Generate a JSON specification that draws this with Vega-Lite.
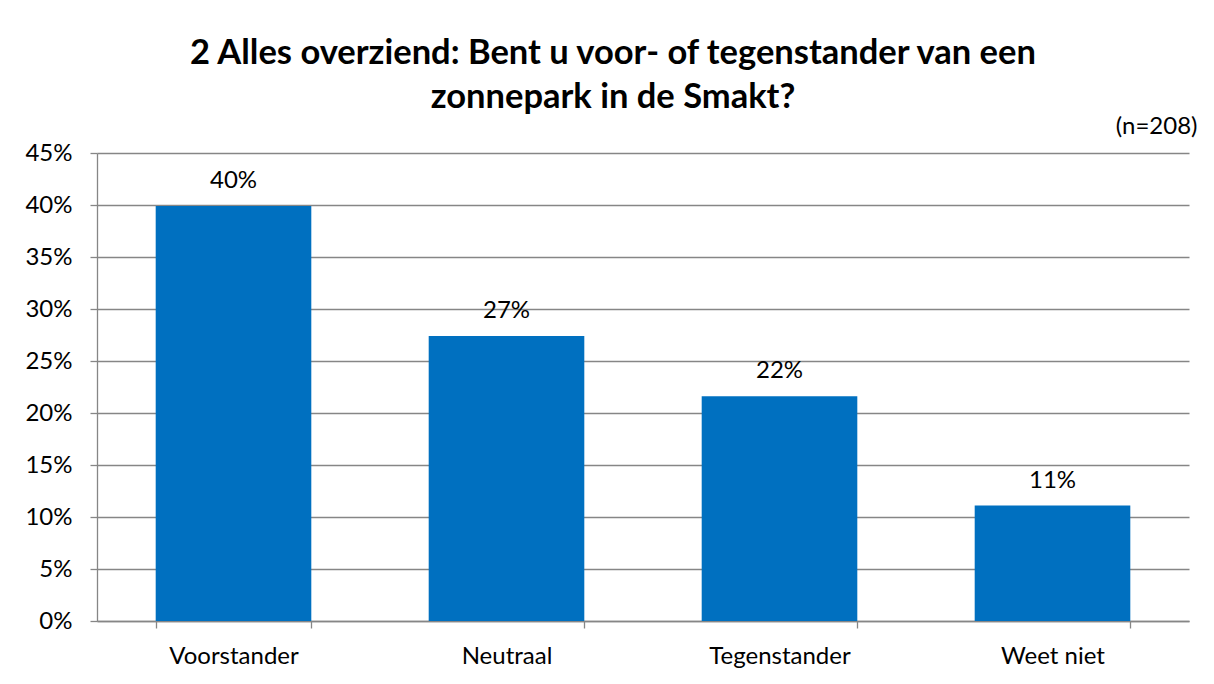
{
  "$schema": "https://vega.github.io/schema/vega-lite/v6.json",
  "width": 1092,
  "height": 468,
  "autosize": "none",
  "padding": {"left": 97, "top": 153, "right": 25, "bottom": 63},
  "background": "white",
  "title": {
    "text": ["2 Alles overziend: Bent u voor- of tegenstander van een", "zonnepark in de Smakt?"],
    "anchor": "middle",
    "frame": "group",
    "dx": -30,
    "font": "Lato",
    "fontSize": 34.5,
    "fontWeight": "bold",
    "color": "#000000",
    "lineHeight": 44,
    "offset": 0
  },
  "config": {
    "view": {"stroke": null},
    "font": "Lato",
    "axis": {
      "labelFont": "Lato",
      "labelFontSize": 24,
      "labelColor": "#000000",
      "domainColor": "#868686",
      "tickColor": "#868686",
      "gridColor": "#868686",
      "domainWidth": 1.3,
      "tickWidth": 1.3,
      "gridWidth": 1.3,
      "tickSize": 7
    }
  },
  "datasets": {
    "antwoorden": [
      {"categorie": "Voorstander", "aandeel": 0.399},
      {"categorie": "Neutraal", "aandeel": 0.274},
      {"categorie": "Tegenstander", "aandeel": 0.216},
      {"categorie": "Weet niet", "aandeel": 0.111}
    ],
    "steekproef": [
      {"categorie": "Weet niet", "aandeel": 0.45, "n": "(n=208)"}
    ]
  },
  "layer": [
    {
      "data": {"name": "antwoorden"},
      "mark": {"type": "bar", "color": "#0070C0"},
      "encoding": {
        "x": {
          "field": "categorie",
          "type": "nominal",
          "sort": ["Voorstander", "Neutraal", "Tegenstander", "Weet niet"],
          "scale": {"paddingInner": 0.43, "paddingOuter": 0.215},
          "axis": {
            "title": null,
            "labelAngle": 0,
            "tickBand": "extent",
            "labelPadding": 16,
            "grid": false
          }
        },
        "y": {
          "field": "aandeel",
          "type": "quantitative",
          "scale": {"domain": [0, 0.45], "nice": false},
          "axis": {
            "title": null,
            "format": ".0%",
            "values": [0, 0.05, 0.1, 0.15, 0.2, 0.25, 0.3, 0.35, 0.4, 0.45],
            "grid": true,
            "labelPadding": 18
          }
        }
      }
    },
    {
      "data": {"name": "antwoorden"},
      "mark": {"type": "text", "baseline": "alphabetic", "dy": -18, "fontSize": 24, "color": "#000000"},
      "encoding": {
        "x": {"field": "categorie", "type": "nominal", "sort": ["Voorstander", "Neutraal", "Tegenstander", "Weet niet"]},
        "y": {"field": "aandeel", "type": "quantitative"},
        "text": {"field": "aandeel", "type": "quantitative", "format": ".0%"}
      }
    },
    {
      "data": {"name": "steekproef"},
      "mark": {"type": "text", "align": "right", "baseline": "alphabetic", "dx": 145, "dy": -19, "fontSize": 24, "color": "#000000"},
      "encoding": {
        "x": {"field": "categorie", "type": "nominal", "sort": ["Voorstander", "Neutraal", "Tegenstander", "Weet niet"]},
        "y": {"field": "aandeel", "type": "quantitative"},
        "text": {"field": "n", "type": "nominal"}
      }
    }
  ]
}
